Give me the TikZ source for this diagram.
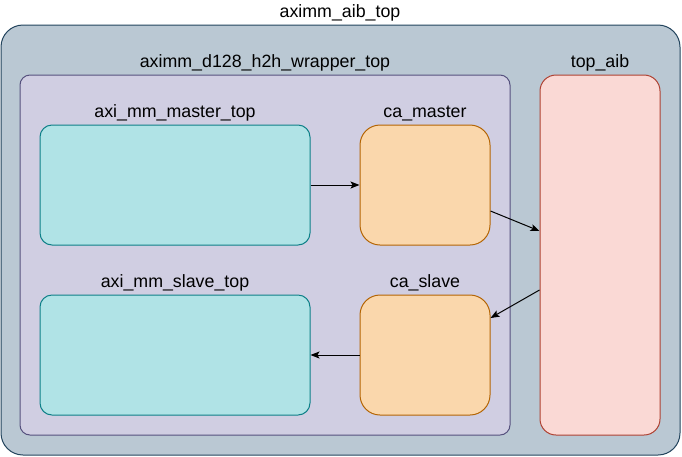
\documentclass[tikz,border=0pt]{standalone}
\usepackage{fontspec}
\setmainfont{Liberation Sans}
\usetikzlibrary{arrows.meta}
\definecolor{topfill}{HTML}{BAC8D3}
\definecolor{topline}{HTML}{23445D}
\definecolor{wrapfill}{HTML}{D0CEE2}
\definecolor{wrapline}{HTML}{56517E}
\definecolor{axifill}{HTML}{B0E3E6}
\definecolor{axiline}{HTML}{0E8088}
\definecolor{cafill}{HTML}{FAD7AC}
\definecolor{caline}{HTML}{B46504}
\definecolor{aibfill}{HTML}{FAD9D5}
\definecolor{aibline}{HTML}{AE4132}
\begin{document}
\begin{tikzpicture}[x=1pt,y=-1pt]
    \useasboundingbox (0,0) rectangle (682,456);
    \tikzset{BlockStyle/.style={draw, line width=1pt, inner sep=0pt}}
    \tikzset{TitleStyle/.style={inner sep=0pt, anchor=base, font=\fontsize{17.8}{20}\selectfont}}
    \tikzset{LinkStyle/.style={-{Stealth[length=9pt,width=7pt,inset=2pt]}, line width=1pt}}

    \node[BlockStyle, fill=topfill, draw=topline, rounded corners=22pt,
          minimum width=679pt, minimum height=430pt] (aibtop) at (340.5,240) {};
    \node[TitleStyle] (aibtoptxt) at (340,17) {aximm\_aib\_top};

    \node[BlockStyle, fill=wrapfill, draw=wrapline, rounded corners=10pt,
          minimum width=490pt, minimum height=360pt] (wrap) at (265,255) {};
    \node[TitleStyle] (wraptxt) at (265,67) {aximm\_d128\_h2h\_wrapper\_top};

    \node[BlockStyle, fill=aibfill, draw=aibline, rounded corners=16pt,
          minimum width=120pt, minimum height=360pt] (aib) at (600,255) {};
    \node[TitleStyle] (aibtxt) at (600,67) {top\_aib};

    \tikzset{BlockStyle/.append style={rounded corners=12pt, fill=axifill, draw=axiline,
          minimum width=270pt, minimum height=120pt}}
    \node[BlockStyle] (mst) at (175,185) {};
    \node[TitleStyle] (msttxt) at (175,117) {axi\_mm\_master\_top};
    \node[BlockStyle] (slv) at (175,355) {};
    \node[TitleStyle] (slvtxt) at (175,287) {axi\_mm\_slave\_top};

    \tikzset{BlockStyle/.append style={rounded corners=20pt, fill=cafill, draw=caline,
          minimum width=130pt, minimum height=120pt}}
    \node[BlockStyle] (cam) at (425,185) {};
    \node[TitleStyle] (camtxt) at (425,117) {ca\_master};
    \node[BlockStyle] (cas) at (425,355) {};
    \node[TitleStyle] (castxt) at (425,287) {ca\_slave};

    \draw[LinkStyle] (mst.east) -- (cam.west);
    \draw[LinkStyle] ([yshift=-26pt]cam.east) -- ([yshift=24pt]aib.west);
    \draw[LinkStyle] ([yshift=-35pt]aib.west) -- ([yshift=37pt]cas.east);
    \draw[LinkStyle] (cas.west) -- (slv.east);
\end{tikzpicture}
\end{document}
